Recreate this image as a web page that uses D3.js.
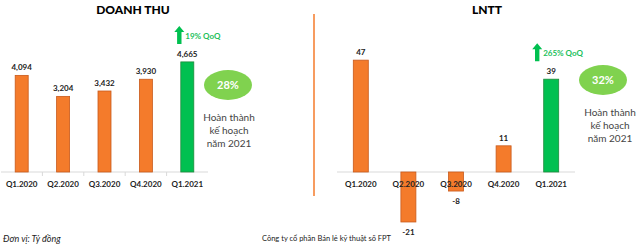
<!DOCTYPE html>
<html>
<head>
<meta charset="utf-8">
<script src="https://cdn.jsdelivr.net/npm/d3@7"></script>
<style>
  body { margin: 0; background: #fff; }
  svg text { font-family: Lato, "Open Sans", sans-serif; }
</style>
</head>
<body>
<div id="chart"></div>
<script>
// données
const quarters = ["Q1.2020", "Q2.2020", "Q3.2020", "Q4.2020", "Q1.2021"];
const revenue = [4094, 3204, 3432, 3930, 4665];
const profit = [47, -21, -8, 11, 39];
const titles = ["DOANH THU", "LNTT"];
const growth = ["19% QoQ", "265% QoQ"];
const planDone = ["28%", "32%"];
const planText = ["Hoàn thành", "kế hoạch", "năm 2021"];

const orange = "#f47b2b", orangeDark = "#c85a1c";
const green = "#00c050", greenDark = "#1f8a3c";
const lightGreen = "#80d24f";

// format avec tiret simple pour les négatifs
const fmt = d3.formatLocale({ decimal: ".", thousands: ",", grouping: [3], currency: ["", ""], minus: "-" }).format(",");

const svg = d3.select("#chart").append("svg")
    .attr("width", 640)
    .attr("height", 247);

function panel(opts) {
    const g = svg.append("g");
    const x = d3.scaleBand().domain(quarters).range(opts.xRange);
    const y = d3.scaleLinear().domain(opts.yDomain).range(opts.yRange);
    const bw = opts.barWidth;
    const data = quarters.map((q, i) => ({ name: q, value: opts.values[i], last: i === quarters.length - 1 }));

    // titre
    g.append("text")
        .attr("x", opts.titleX).attr("y", 14)
        .attr("text-anchor", "middle")
        .style("font-size", "12px").style("font-weight", "900")
        .text(opts.title);

    // ligne de base
    g.append("line")
        .attr("x1", opts.xRange[0]).attr("x2", opts.xRange[1])
        .attr("y1", y(0)).attr("y2", y(0))
        .attr("stroke", "#d9d9d9").attr("stroke-width", 1);

    if (opts.ticks) {
        g.selectAll(".tick-mark")
            .data(quarters.slice(1))
            .enter().append("line")
            .attr("x1", d => x(d)).attr("x2", d => x(d))
            .attr("y1", y(0)).attr("y2", y(0) + 4)
            .attr("stroke", "#d9d9d9");
    }

    // barres
    g.selectAll(".bar")
        .data(data)
        .enter().append("rect")
        .attr("x", d => x(d.name) + x.bandwidth() / 2 - bw / 2)
        .attr("y", d => y(Math.max(0, d.value)))
        .attr("width", bw)
        .attr("height", d => Math.abs(y(d.value) - y(0)))
        .attr("fill", d => d.last ? green : orange)
        .attr("stroke", d => d.last ? greenDark : orangeDark)
        .attr("stroke-width", 0.8);

    // étiquettes des valeurs
    g.selectAll(".val")
        .data(data)
        .enter().append("text")
        .attr("x", d => x(d.name) + x.bandwidth() / 2)
        .attr("y", d => d.value >= 0 ? y(d.value) - 5 : y(d.value) + 13)
        .attr("text-anchor", "middle")
        .style("font-size", "8px").style("font-weight", "bold")
        .attr("fill", "#222")
        .text(d => fmt(d.value));

    // catégories
    g.selectAll(".cat")
        .data(quarters)
        .enter().append("text")
        .attr("x", d => x(d) + x.bandwidth() / 2)
        .attr("y", y(0) + 15)
        .attr("text-anchor", "middle")
        .style("font-size", "8px").style("font-weight", "bold")
        .attr("fill", "#222")
        .text(d => d);

    // flèche QoQ
    const lastQ = quarters[quarters.length - 1];
    const ax = x(lastQ) + x.bandwidth() / 2 + opts.arrowDx;
    const aTop = y(opts.values[opts.values.length - 1]) - opts.arrowGap;
    const aBot = aTop + 18;
    g.append("path")
        .attr("d", `M${ax},${aTop} L${ax + 5},${aTop + 6} L${ax + 2.2},${aTop + 6} L${ax + 2.2},${aBot} L${ax - 2.2},${aBot} L${ax - 2.2},${aTop + 6} L${ax - 5},${aTop + 6} Z`)
        .attr("fill", green);
    g.append("text")
        .attr("x", ax + 6).attr("y", aTop + 13)
        .style("font-size", "8px").style("font-weight", "bold")
        .attr("fill", "#22c05a")
        .text(opts.growth);

    // ellipse % kế hoạch
    g.append("ellipse")
        .attr("cx", opts.ellipse[0]).attr("cy", opts.ellipse[1])
        .attr("rx", 24).attr("ry", 15)
        .attr("fill", lightGreen);
    g.append("text")
        .attr("x", opts.ellipse[0]).attr("y", opts.ellipse[1] + 4)
        .attr("text-anchor", "middle")
        .style("font-size", "11px").style("font-weight", "bold")
        .attr("fill", "#fff")
        .text(opts.plan);

    g.selectAll(".plan")
        .data(planText)
        .enter().append("text")
        .attr("x", opts.planX)
        .attr("y", (d, i) => opts.planY + i * 13)
        .attr("text-anchor", "middle")
        .style("font-size", "10px")
        .attr("fill", "#444")
        .text(d => d);
}

panel({
    title: titles[0], titleX: 133,
    values: revenue,
    xRange: [1, 208], yDomain: [0, 5000], yRange: [172, 54],
    barWidth: 13, ticks: true,
    arrowDx: -8, arrowGap: 36,
    growth: growth[0], plan: planDone[0],
    ellipse: [228, 85], planX: 229, planY: 121
});

panel({
    title: titles[1], titleX: 487,
    values: profit,
    xRange: [337, 575], yDomain: [-25, 50], yRange: [231.5, 53],
    barWidth: 15, ticks: false,
    arrowDx: -14, arrowGap: 36,
    growth: growth[1], plan: planDone[1],
    ellipse: [603, 80], planX: 610, planY: 116
});

// séparateur
svg.append("line")
    .attr("x1", 314).attr("x2", 314)
    .attr("y1", 14).attr("y2", 196)
    .attr("stroke", orange).attr("stroke-width", 1.5);

// pied de page
svg.append("text")
    .attr("x", 3).attr("y", 242)
    .style("font-size", "9px").style("font-style", "italic")
    .attr("fill", "#222")
    .text("Đơn vị: Tỷ đồng");

svg.append("text")
    .attr("x", 262).attr("y", 241)
    .style("font-size", "7.5px")
    .attr("fill", "#222")
    .text("Công ty cổ phần Bán lẻ kỹ thuật số FPT");
</script>
</body>
</html>
